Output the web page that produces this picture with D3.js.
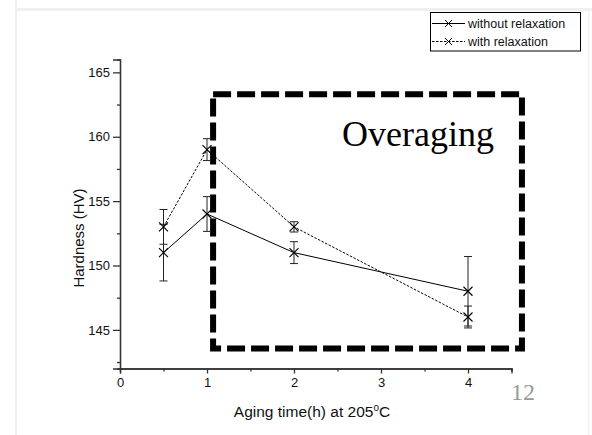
<!DOCTYPE html>
<html><head><meta charset="utf-8">
<script src="https://cdn.jsdelivr.net/npm/d3@7"></script>
<style>body{margin:0;background:#fff}svg{display:block}</style>
</head><body>
<script>
const times = [0.5, 1, 2, 4];
const withoutRelax = [151, 154, 151, 148];
const withoutErr = [2.2, 1.35, 0.85, 2.7];
const withRelax = [153, 159, 153, 146];
const withErr = [1.35, 0.85, 0.4, 0.85];
const seriesNames = ["without relaxation", "with relaxation"];
const xMajorTicks = [0, 1, 2, 3, 4];
const xMinorTicks = [0.5, 1.5, 2.5, 3.5, 4.5];
const yMajorTicks = [145, 150, 155, 160, 165];
const yMinorTicks = [142.5, 147.5, 152.5, 157.5, 162.5];
const boxRegion = {x0: 1.07, x1: 4.62, y0: 143.55, y1: 163.3};

const W = 592, H = 435;
const svg = d3.select("body").append("svg").attr("width", W).attr("height", H);

// page frame
svg.append("rect").attr("x",0).attr("y",0).attr("width",W).attr("height",H).attr("fill","#fff");
svg.append("rect").attr("x",15).attr("y",0).attr("width",2).attr("height",H).attr("fill","#eeeeee");
svg.append("rect").attr("x",17).attr("y",8).attr("width",W-17).attr("height",3).attr("fill","#f0f0f0");
svg.append("rect").attr("x",588).attr("y",11).attr("width",1.5).attr("height",H).attr("fill","#f2f2f2");

const x = d3.scaleLinear().domain([0, 4.5]).range([120, 511.5]);
const y = d3.scaleLinear().domain([142, 166]).range([368.5, 59.5]);

const font = "'Liberation Sans', Arial, sans-serif";
const axisColor = "#333";

// X axis
const gx = svg.append("g").attr("transform", `translate(0,${y(142)})`);
gx.call(d3.axisBottom(x).tickValues(xMajorTicks).tickSize(5).tickPadding(4).tickFormat(d3.format("d")));
gx.append("g").call(d3.axisBottom(x).tickValues(xMinorTicks).tickSize(3).tickFormat(""));
gx.selectAll(".domain").attr("stroke", axisColor).attr("stroke-width", 1.3);
gx.selectAll("line").attr("stroke", axisColor).attr("stroke-width", 1.3);
gx.selectAll("text").attr("font-family", font).attr("font-size", 13).attr("fill", "#111");

// Y axis
const gy = svg.append("g").attr("transform", `translate(${x(0)},0)`);
gy.call(d3.axisLeft(y).tickValues(yMajorTicks).tickSize(7).tickPadding(3).tickFormat(d3.format("d")));
gy.append("g").call(d3.axisLeft(y).tickValues(yMinorTicks).tickSize(3).tickFormat(""));
gy.selectAll(".domain").attr("stroke", axisColor).attr("stroke-width", 1.3);
gy.selectAll("line").attr("stroke", axisColor).attr("stroke-width", 1.3);
gy.selectAll("text").attr("font-family", font).attr("font-size", 13).attr("fill", "#111");

// Axis titles
const xt = svg.append("text").attr("x", 312).attr("y", 417).attr("text-anchor", "middle")
  .attr("font-family", font).attr("font-size", 15.5).attr("fill", "#111");
xt.append("tspan").text("Aging time(h) at 205");
xt.append("tspan").attr("font-size", 10).attr("dy", -6).text("o");
xt.append("tspan").attr("dy", 6).text("C");

svg.append("text").attr("transform", "translate(84,238) rotate(-90)").attr("text-anchor", "middle")
  .attr("font-family", font).attr("font-size", 15).attr("fill", "#111").text("Hardness (HV)");

// Overaging dashed box
svg.append("rect")
  .attr("x", x(boxRegion.x0)).attr("y", y(boxRegion.y1))
  .attr("width", x(boxRegion.x1) - x(boxRegion.x0)).attr("height", y(boxRegion.y0) - y(boxRegion.y1))
  .attr("fill", "none").attr("stroke", "#000").attr("stroke-width", 6)
  .attr("stroke-dasharray", "18,6");

svg.append("text").attr("x", 342).attr("y", 146).attr("font-family", "'Liberation Serif', 'Times New Roman', serif")
  .attr("font-size", 36).attr("fill", "#000").text("Overaging");

svg.append("text").attr("x", 511).attr("y", 400).attr("font-family", "'Liberation Serif', 'Times New Roman', serif")
  .attr("font-size", 24).attr("fill", "#999").text("12");

// series
const series = [
  {name: seriesNames[0], vals: withoutRelax, err: withoutErr, dash: null},
  {name: seriesNames[1], vals: withRelax, err: withErr, dash: "2.5,1.5"}
];
const line = d3.line().x(d => x(d[0])).y(d => y(d[1]));
const ms = 4.5;
function cross(g, cx, cy) {
  g.append("path").attr("d", `M${cx-ms},${cy-ms}L${cx+ms},${cy+ms}M${cx-ms},${cy+ms}L${cx+ms},${cy-ms}`)
    .attr("stroke", "#000").attr("stroke-width", 1.1).attr("fill", "none");
}
series.forEach(s => {
  const pts = times.map((t, i) => [t, s.vals[i]]);
  svg.append("path").attr("d", line(pts)).attr("fill", "none").attr("stroke", "#000")
    .attr("stroke-width", 1).attr("stroke-dasharray", s.dash);
  const g = svg.append("g");
  pts.forEach((p, i) => {
    const cx = x(p[0]), lo = y(p[1] - s.err[i]), hi = y(p[1] + s.err[i]);
    g.append("line").attr("x1", cx).attr("x2", cx).attr("y1", lo).attr("y2", hi).attr("stroke", "#222").attr("stroke-width", 1);
    [lo, hi].forEach(v => g.append("line").attr("x1", cx-4).attr("x2", cx+4).attr("y1", v).attr("y2", v).attr("stroke", "#222").attr("stroke-width", 1));
    cross(g, cx, y(p[1]));
  });
});

// legend
const lg = svg.append("g");
lg.append("rect").attr("x", 430.5).attr("y", 12.5).attr("width", 150).attr("height", 38.5)
  .attr("fill", "#fff").attr("stroke", "#000").attr("stroke-width", 1);
series.forEach((s, i) => {
  const cy = 23.5 + i * 18;
  lg.append("line").attr("x1", 432).attr("x2", 465).attr("y1", cy).attr("y2", cy)
    .attr("stroke", "#000").attr("stroke-width", 1).attr("stroke-dasharray", s.dash);
  const m = 3.5;
  lg.append("path").attr("d", `M${448.5-m},${cy-m}L${448.5+m},${cy+m}M${448.5-m},${cy+m}L${448.5+m},${cy-m}`)
    .attr("stroke", "#000").attr("stroke-width", 1);
  lg.append("text").attr("x", 468).attr("y", cy + 4.5).attr("font-family", font).attr("font-size", 12.5)
    .attr("fill", "#111").text(s.name);
});
</script>
</body></html>
